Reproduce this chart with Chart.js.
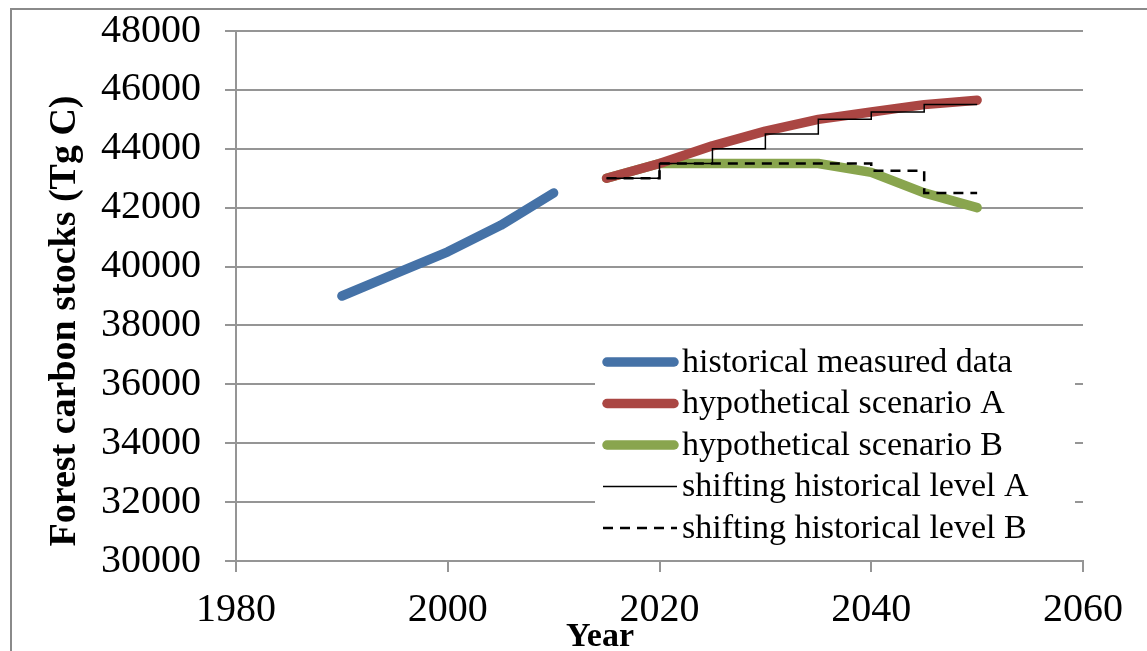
<!DOCTYPE html>
<html>
<head>
<meta charset="utf-8">
<script src="https://cdn.jsdelivr.net/npm/chart.js@4.4.1/dist/chart.umd.min.js"></script>
<style>
  html, body { margin: 0; padding: 0; background: #fff; }
  #wrap { width: 1147px; height: 651px; }
</style>
</head>
<body>
<div id="wrap"><canvas id="chart" width="1147" height="651"></canvas></div>
<script>
const histYears = [1990, 1995, 2000, 2005, 2010];
const histValues = [39000, 39750, 40500, 41400, 42500];

const scenYears = [2015, 2020, 2025, 2030, 2035, 2040, 2045, 2050];
const scenarioA = [43000, 43500, 44100, 44600, 45000, 45250, 45500, 45650];
const scenarioB = [43000, 43500, 43500, 43500, 43500, 43200, 42500, 42000];
const levelA = [43000, 43500, 44000, 44500, 45000, 45250, 45500, 45500];
const levelB = [43000, 43500, 43500, 43500, 43500, 43250, 42500, 42500];

const seriesLabels = [
  'historical measured data',
  'hypothetical scenario A',
  'hypothetical scenario B',
  'shifting historical level A',
  'shifting historical level B'
];

const blue = '#4572a7';
const red = '#aa4643';
const green = '#89a54e';
const gridGray = '#959595';
const serif = "'Liberation Serif', 'Times New Roman', serif";

function pts(xs, ys) { return xs.map((x, i) => ({ x, y: ys[i] })); }

function thick(label, data, color) {
  return {
    label, data, borderColor: color, backgroundColor: color,
    borderWidth: 9.5, borderCapStyle: 'round', borderJoinStyle: 'round',
    pointRadius: 0, tension: 0, order: 2
  };
}

// frame, axis titles and the in-plot legend
const decorations = {
  id: 'decorations',
  beforeDraw(chart) {
    const ctx = chart.ctx;
    ctx.save();
    ctx.fillStyle = '#fff';
    ctx.fillRect(0, 0, chart.width, chart.height);
    ctx.strokeStyle = '#8a8a8a';
    ctx.lineWidth = 2;
    ctx.beginPath();
    ctx.moveTo(11, chart.height);
    ctx.lineTo(11, 9);
    ctx.lineTo(chart.width, 9);
    ctx.stroke();
    ctx.restore();
  },
  afterDraw(chart) {
    const ctx = chart.ctx;
    ctx.save();
    ctx.fillStyle = '#000';

    ctx.font = 'bold 38px ' + serif;
    ctx.textAlign = 'center';
    ctx.textBaseline = 'alphabetic';
    ctx.translate(75, 321);
    ctx.rotate(-Math.PI / 2);
    ctx.fillText('Forest carbon stocks (Tg C)', 0, 0);
    ctx.setTransform(1, 0, 0, 1, 0, 0);

    ctx.font = 'bold 34px ' + serif;
    ctx.fillText('Year', 600, 646);

    // legend box
    ctx.fillStyle = '#fff';
    ctx.fillRect(595, 338, 480, 210);
    ctx.font = '34px ' + serif;
    ctx.textAlign = 'left';
    ctx.textBaseline = 'middle';
    chart.data.datasets.forEach((ds, i) => {
      const y = 362 + i * 41.5;
      ctx.save();
      ctx.strokeStyle = ds.borderColor;
      ctx.lineWidth = ds.borderWidth;
      ctx.lineCap = ds.borderWidth > 3 ? 'round' : 'butt';
      ctx.setLineDash(ds.borderDash || []);
      ctx.beginPath();
      ctx.moveTo(ds.borderWidth > 3 ? 607 : 603, y);
      ctx.lineTo(ds.borderWidth > 3 ? 674 : 677, y);
      ctx.stroke();
      ctx.restore();
      ctx.fillStyle = '#000';
      ctx.fillText(ds.label, 682, y + 1);
    });
    ctx.restore();
  }
};

new Chart(document.getElementById('chart'), {
  type: 'line',
  data: {
    datasets: [
      thick(seriesLabels[0], pts(histYears, histValues), blue),
      thick(seriesLabels[1], pts(scenYears, scenarioA), red),
      thick(seriesLabels[2], pts(scenYears, scenarioB), green),
      {
        label: seriesLabels[3], data: pts(scenYears, levelA),
        borderColor: '#000', borderWidth: 1.5, stepped: 'before',
        pointRadius: 0, order: 1
      },
      {
        label: seriesLabels[4], data: pts(scenYears, levelB),
        borderColor: '#000', borderWidth: 2.5, borderDash: [10, 7], stepped: 'before',
        pointRadius: 0, order: 1
      }
    ]
  },
  options: {
    responsive: false,
    animation: false,
    layout: { padding: { left: 20, top: 31, right: 64, bottom: 0 } },
    plugins: { legend: { display: false }, tooltip: { enabled: false } },
    scales: {
      x: {
        type: 'linear', min: 1980, max: 2060,
        afterFit: s => { s.height = 90; s.paddingLeft = 0; s.paddingRight = 0; },
        ticks: {
          stepSize: 20, color: '#000', padding: 14,
          font: { family: serif, size: 40 },
          callback: v => String(v), maxRotation: 0
        },
        grid: { drawOnChartArea: false, tickLength: 11, tickColor: gridGray, lineWidth: 2 },
        border: { color: gridGray, width: 2 }
      },
      y: {
        min: 30000, max: 48000,
        afterFit: s => { s.width = 216; s.paddingTop = 0; s.paddingBottom = 0; },
        ticks: {
          stepSize: 2000, color: '#000', padding: 24,
          font: { family: serif, size: 40 },
          callback: v => String(v)
        },
        grid: { color: gridGray, lineWidth: 2, tickLength: 11, tickColor: gridGray },
        border: { color: gridGray, width: 2 }
      }
    }
  },
  plugins: [decorations]
});
</script>
</body>
</html>
